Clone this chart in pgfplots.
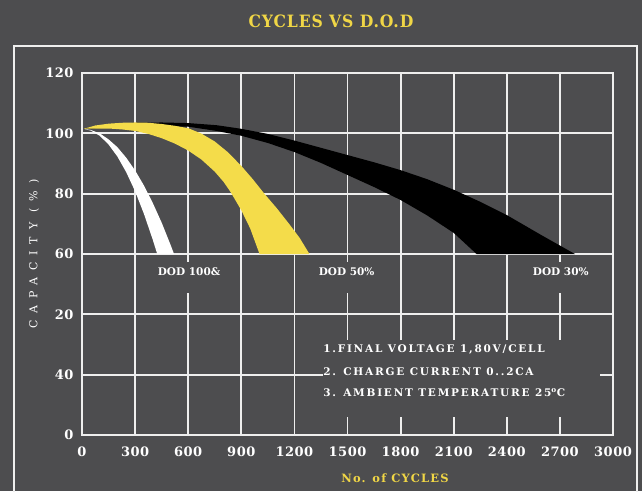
\documentclass[border=0pt]{standalone}
\usepackage{fontspec}
\setmainfont{DejaVu Serif}
\usepackage{pgfplots}
\pgfplotsset{compat=1.18}
\definecolor{bg}{RGB}{77,77,79}
\definecolor{ylw}{RGB}{244,220,74}
\definecolor{titleylw}{RGB}{240,214,70}
\definecolor{gridc}{RGB}{238,238,238}
\newfontfamily\titlefont[FakeStretch=0.92,LetterSpace=5]{DejaVu Serif}
\newfontfamily\tickfont[LetterSpace=4]{DejaVu Serif}
\newfontfamily\notefont[LetterSpace=17]{DejaVu Serif}
\newfontfamily\ylabfont[LetterSpace=62]{DejaVu Serif}
\newfontfamily\xlabfont[LetterSpace=10]{DejaVu Serif}
\newfontfamily\dodfont{DejaVu Serif}

\begin{document}
\begin{tikzpicture}[x=1pt,y=1pt]
\fill[bg] (0,0) rectangle (642,491);
\draw[gridc, line width=2pt] (14,-5) -- (14,445) -- (637,445) -- (637,-5);
\node[font=\titlefont\bfseries\fontsize{17}{20}\selectfont, text=titleylw] at (331,469.5) {CYCLES VS D.O.D};
\node[font=\ylabfont\fontsize{11}{13}\selectfont, text=white, rotate=90] at (34,237) {CAPACITY (\%)};
\node[font=\xlabfont\bfseries\fontsize{11.5}{13}\selectfont, text=titleylw] at (395,13) {No. of CYCLES};
\begin{axis}[
  at={(82pt,56pt)}, anchor=south west, width=531pt, height=362pt, scale only axis,
  xmin=0, xmax=3000, ymin=0, ymax=120,
  xtick={0,300,...,3000},
  xticklabels={0,300,600,900,1200,1500,1800,2100,2400,2700,3000},
  ytick={0,20,...,120},
  yticklabels={0,40,20,60,80,100,120},
  grid=major,
  major grid style={gridc, line width=1.8pt},
  axis line style={gridc, line width=1.8pt},
  major tick length=0pt,
  tick label style={text=white, font=\tickfont\bfseries\fontsize{13}{15}\selectfont},
  xticklabel style={yshift=-8pt},
  yticklabel style={xshift=-5pt},
  clip=false,
]
% DOD 30% band (black)
\addplot[fill=black, draw=none] coordinates {
 (10,101.5) (150,102.9) (300,103.5) (450,103.6) (600,103.4) (760,102.7) (900,101.5)
 (1050,99.8) (1200,97.6) (1350,95.2) (1500,92.8) (1650,90.4) (1800,87.8) (1950,84.8)
 (2100,81.3) (2250,77.3) (2400,72.9) (2500,69.5) (2600,66.1) (2700,62.8) (2785,60)
 (2229,60) (2100,67) (1950,72.8) (1800,77.9) (1650,82.2) (1500,86.2) (1350,90.2)
 (1200,93.8) (1050,96.8) (900,99.2) (760,100.8) (600,102.2) (450,102.4) (300,102.2)
 (150,101.9) (10,101.5)
} -- cycle;
% DOD 50% band (yellow)
\addplot[fill=ylw, draw=none] coordinates {
 (10,101.5) (75,102.6) (150,103.2) (225,103.5) (300,103.6) (375,103.5) (450,103.1)
 (525,102.5) (600,101.7) (675,99.9) (750,97.3) (825,93.7) (900,89.2) (965,84.8)
 (1030,80) (1100,75.2) (1170,70) (1230,65.3) (1285,60)
 (1003,60) (950,68.5) (900,74.5) (840,80.5) (800,83.9) (750,87.3) (675,91.3)
 (600,94.3) (525,96.6) (450,98.4) (375,99.8) (300,100.8) (225,101.3) (150,101.6)
 (75,101.6) (10,101.5)
} -- cycle;
% DOD 100% band (white)
\addplot[fill=white, draw=none] coordinates {
 (10,101.5) (50,101.1) (100,100.0) (150,98.0) (200,95.4) (250,91.9) (300,87.7)
 (350,82.7) (400,76.9) (450,70.4) (500,63.1) (520,60)
 (425,60) (400,64.7) (350,73.3) (300,80.8) (250,87.1) (200,92.3) (150,96.3)
 (100,99.2) (50,100.9) (10,101.5)
} -- cycle;
% label gaps
\fill[bg] (axis cs:570,47) rectangle (axis cs:630,57.3);
\fill[bg] (axis cs:1470,47) rectangle (axis cs:1530,57.3);
\fill[bg] (axis cs:2670,47) rectangle (axis cs:2730,57.3);
\fill[bg] (axis cs:1362,6) rectangle (axis cs:2926,31.5);
\node[font=\dodfont\bfseries\fontsize{10.5}{12}\selectfont, text=white] at (axis cs:605,54) {DOD 100\&};
\node[font=\dodfont\bfseries\fontsize{10.5}{12}\selectfont, text=white] at (axis cs:1495,54) {DOD 50\%};
\node[font=\dodfont\bfseries\fontsize{10.5}{12}\selectfont, text=white] at (axis cs:2705,54) {DOD 30\%};
\node[font=\notefont\bfseries\fontsize{10.5}{12}\selectfont, text=white, anchor=west, inner sep=0pt] at (axis cs:1362,28.2) {1.FINAL VOLTAGE 1,80V/CELL};
\node[font=\notefont\bfseries\fontsize{10.5}{12}\selectfont, text=white, anchor=west, inner sep=0pt] at (axis cs:1362,20.9) {2. CHARGE CURRENT 0..2CA};
\node[font=\notefont\bfseries\fontsize{10.5}{12}\selectfont, text=white, anchor=west, inner sep=0pt] at (axis cs:1362,13.9) {3. AMBIENT TEMPERATURE 25\textsuperscript{o}C};
\end{axis}
\pgfresetboundingbox
\useasboundingbox (0,0) rectangle (642,491);
\end{tikzpicture}
\end{document}
